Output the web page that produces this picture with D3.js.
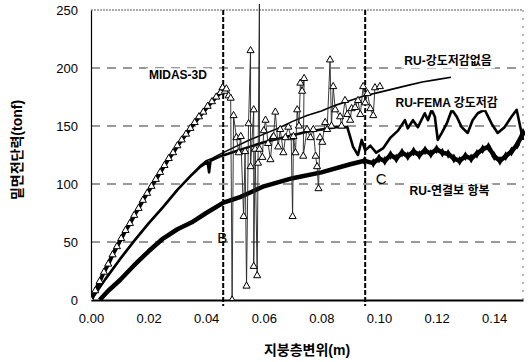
<!DOCTYPE html>
<html><head><meta charset="utf-8">
<script src="https://cdn.jsdelivr.net/npm/d3@7"></script>
<style>body{margin:0;background:#fff}svg{display:block}</style>
</head><body><svg id="c" width="530" height="362"></svg>
<script>
const xTicks=[0,0.02,0.04,0.06,0.08,0.10,0.12,0.14];
const yTicks=[0,50,100,150,200,250];
const gridValues=[50,100,150,200];
const markerLines=[{name:"B",x:0.0459},{name:"C",x:0.0952}];

const midasRise=[[0,0],[0.0015,8],[0.003,16],[0.0045,24],[0.006,31],[0.0075,39],[0.009,46],[0.0105,53],[0.012,60],[0.0135,66],[0.015,73],[0.0165,79],[0.018,86],[0.0195,92],[0.021,98],[0.0225,104],[0.024,110],[0.0255,116],[0.027,122],[0.0285,127],[0.03,133],[0.0315,138],[0.033,143],[0.0345,148],[0.036,153],[0.0375,158],[0.039,162],[0.0405,167],[0.042,171],[0.0435,175],[0.045,179],[0.0457,183]];
const midasPost=[[0.0457,183],[0.0465,180],[0.047,182],[0.0478,176],[0.0485,174],[0.049,0],[0.0495,159],[0.0505,140],[0.0513,127],[0.052,141],[0.053,72],[0.0535,128],[0.054,12],[0.0547,152],[0.0554,215],[0.0554,115],[0.0565,164],[0.0565,29],[0.057,130],[0.0577,21],[0.058,118],[0.0585,270],[0.0585,130],[0.0595,123],[0.06,146],[0.0606,155],[0.0615,135],[0.0623,121],[0.063,140],[0.0634,141],[0.064,162],[0.065,132],[0.0657,147],[0.0668,127],[0.0675,140],[0.0685,149],[0.0695,140],[0.070,72],[0.0703,141],[0.071,127],[0.0716,164],[0.0722,150],[0.0727,187],[0.0733,180],[0.074,191],[0.0737,124],[0.075,147],[0.0762,140],[0.0772,147],[0.078,124],[0.0785,115],[0.079,96],[0.0795,140],[0.0803,136],[0.0813,153],[0.082,147],[0.083,207],[0.0835,150],[0.0841,184],[0.0848,164],[0.0865,158],[0.087,150],[0.0882,172],[0.089,160],[0.09,155],[0.0905,165],[0.0917,166],[0.0927,172],[0.0935,160],[0.0945,184],[0.0952,170],[0.096,178],[0.097,165],[0.098,159],[0.0986,183],[0.1003,184]];
const ruNoReduction=[[0,0],[0.005,18],[0.01,35],[0.015,51],[0.02,66],[0.025,80],[0.03,95],[0.035,108],[0.038,116],[0.04,120],[0.042,122],[0.045,126],[0.05,132],[0.055,138],[0.06,143],[0.065,148],[0.07,154],[0.075,159],[0.08,163],[0.085,168],[0.09,172],[0.095,176],[0.1,179],[0.105,182],[0.11,185],[0.115,188],[0.12,190],[0.125,192]];
const ruFema=[[0,0],[0.005,18],[0.01,35],[0.015,51],[0.02,66],[0.025,80],[0.03,95],[0.035,108],[0.038,115],[0.0405,119],[0.041,110],[0.0415,120],[0.045,124],[0.05,128],[0.055,132],[0.06,136],[0.065,139],[0.07,142],[0.075,145],[0.08,147],[0.085,149],[0.089,149],[0.091,132],[0.0927,125],[0.094,138],[0.0952,129],[0.097,133],[0.099,127],[0.1015,131],[0.104,140],[0.1066,146],[0.109,155],[0.11,148],[0.1118,155],[0.1135,149],[0.1159,161],[0.117,155],[0.1183,164],[0.1194,158],[0.1204,138],[0.1218,144],[0.1235,152],[0.1253,164],[0.127,158],[0.1287,149],[0.1308,144],[0.1325,155],[0.1343,161],[0.1367,164],[0.1391,152],[0.1412,144],[0.1436,149],[0.146,158],[0.1478,164],[0.1495,144],[0.15,138]];
const linkRise=[[0.003,0],[0.006,8],[0.01,17],[0.015,30],[0.02,42],[0.025,53],[0.03,61],[0.035,67],[0.04,75],[0.046,84],[0.052,89],[0.06,98],[0.07,105],[0.08,110],[0.09,117],[0.095,120]];
const linkPost=[[0.095,120],[0.098,118],[0.1,122],[0.102,120],[0.104,125],[0.106,122],[0.108,127],[0.11,124],[0.112,128],[0.114,125],[0.116,129],[0.118,126],[0.12,130],[0.122,127],[0.124,126],[0.126,122],[0.128,120],[0.13,124],[0.132,122],[0.134,126],[0.136,130],[0.138,132],[0.14,124],[0.142,120],[0.144,124],[0.146,128],[0.148,134],[0.15,144]];
const labels=[
 {text:"MIDAS-3D",x:0.0302,y:193},
 {text:"RU-강도저감없음",x:0.124,y:205},
 {text:"RU-FEMA 강도저감",x:0.1235,y:169},
 {text:"RU-연결보 항복",x:0.1245,y:93}
];
const xTitle="지붕층변위(m)", yTitle="밑면전단력(tonf)";

const svg=d3.select("#c");
const L=91,R=523,T=10,B=300;
const x=d3.scaleLinear().domain([0,0.15]).range([L,R]);
const y=d3.scaleLinear().domain([0,250]).range([B,T]);
const font="'Liberation Sans',Arial,'Noto Sans CJK KR',sans-serif";

svg.append("defs").append("clipPath").attr("id","clip").append("rect")
 .attr("x",L).attr("y",T-6).attr("width",R-L+2).attr("height",B-T+6);

// grid
svg.append("g").selectAll("line").data(gridValues).join("line")
 .attr("x1",L).attr("x2",R).attr("y1",d=>y(d)).attr("y2",d=>y(d))
 .attr("stroke","#333").attr("stroke-width",1).attr("stroke-dasharray","9,7");
// top & right borders
svg.append("line").attr("x1",L).attr("x2",R).attr("y1",T).attr("y2",T).attr("stroke","#555").attr("stroke-width",1).attr("stroke-dasharray","2,1");
svg.append("line").attr("x1",R).attr("x2",R).attr("y1",T).attr("y2",B).attr("stroke","#777").attr("stroke-width",1).attr("stroke-dasharray","2,6");

// axes
const xAxis=d3.axisBottom(x).tickValues(xTicks).tickFormat(d3.format(".2f")).tickSize(0).tickPadding(14);
const gx=svg.append("g").attr("transform",`translate(0,${B})`).call(xAxis);
gx.select(".domain").attr("stroke","#000").attr("stroke-width",2);
gx.selectAll("text").attr("font-family",font).attr("font-size",13).attr("fill","#000");
const yAxis=d3.axisLeft(y).tickValues(yTicks).tickSize(0).tickPadding(13);
const gy=svg.append("g").attr("transform",`translate(${L},0)`).call(yAxis);
gy.select(".domain").attr("stroke","#000").attr("stroke-width",1.2);
gy.selectAll("text").attr("font-family",font).attr("font-size",13).attr("fill","#000");

// vertical dashed markers
svg.append("g").selectAll("line").data(markerLines).join("line")
 .attr("x1",d=>x(d.x)).attr("x2",d=>x(d.x)).attr("y1",T).attr("y2",B+6)
 .attr("stroke","#000").attr("stroke-width",2).attr("stroke-dasharray","5,2");

const line=d3.line().x(d=>x(d[0])).y(d=>y(d[1]));
const plot=svg.append("g").attr("clip-path","url(#clip)");

// link beam yield (thick)
plot.append("path").datum(linkRise.concat(linkPost.slice(1))).attr("d",line)
 .attr("fill","none").attr("stroke","#000").attr("stroke-width",4.5).attr("stroke-linejoin","round");
plot.append("g").selectAll("path").data(linkPost).join("path")
 .attr("transform",d=>`translate(${x(d[0])},${y(d[1])})`)
 .attr("d",d3.symbol(d3.symbolDiamond,28)).attr("fill","#000");

// RU FEMA
plot.append("path").datum(ruFema).attr("d",line)
 .attr("fill","none").attr("stroke","#000").attr("stroke-width",2.6).attr("stroke-linejoin","round");
// RU no reduction
plot.append("path").datum(ruNoReduction).attr("d",line)
 .attr("fill","none").attr("stroke","#000").attr("stroke-width",1.6);

// MIDAS
plot.append("path").datum(midasPost).attr("d",line)
 .attr("fill","none").attr("stroke","#222").attr("stroke-width",0.9);
plot.append("path").datum(midasRise).attr("d",line)
 .attr("fill","none").attr("stroke","#000").attr("stroke-width",4);
const tri=d3.symbol(d3.symbolTriangle,22);
plot.append("g").selectAll("path").data(midasRise.concat(midasPost)).join("path")
 .attr("transform",d=>`translate(${x(d[0])},${y(d[1])})`)
 .attr("d",tri).attr("fill","#fff").attr("stroke","#000").attr("stroke-width",1);

// marker letters
svg.append("g").selectAll("text").data(markerLines).join("text")
 .attr("x",d=>x(d.x)+(d.name==="B"?-1:16)).attr("y",d=>d.name==="B"?243:184)
 .attr("text-anchor","middle").attr("font-family",font).attr("font-size",15)
 .text(d=>d.name);

// series labels with white background
labels.forEach(l=>{
 const g=svg.append("g");
 const t=g.append("text").attr("x",x(l.x)).attr("y",y(l.y)).attr("text-anchor","middle")
  .attr("dominant-baseline","middle").attr("font-family",font).attr("font-size",12).attr("font-weight","bold").text(l.text);
 const bb=t.node().getBBox();
 g.insert("rect","text").attr("x",bb.x-3).attr("y",bb.y).attr("width",bb.width+6).attr("height",bb.height).attr("fill","#fff");
});

// titles
svg.append("text").attr("x",307).attr("y",355).attr("text-anchor","middle")
 .attr("font-family",font).attr("font-size",14).attr("font-weight","bold").text(xTitle);
svg.append("text").attr("transform","translate(22,150) rotate(-90)").attr("text-anchor","middle")
 .attr("font-family",font).attr("font-size",14).attr("font-weight","bold").text(yTitle);
</script></body></html>
